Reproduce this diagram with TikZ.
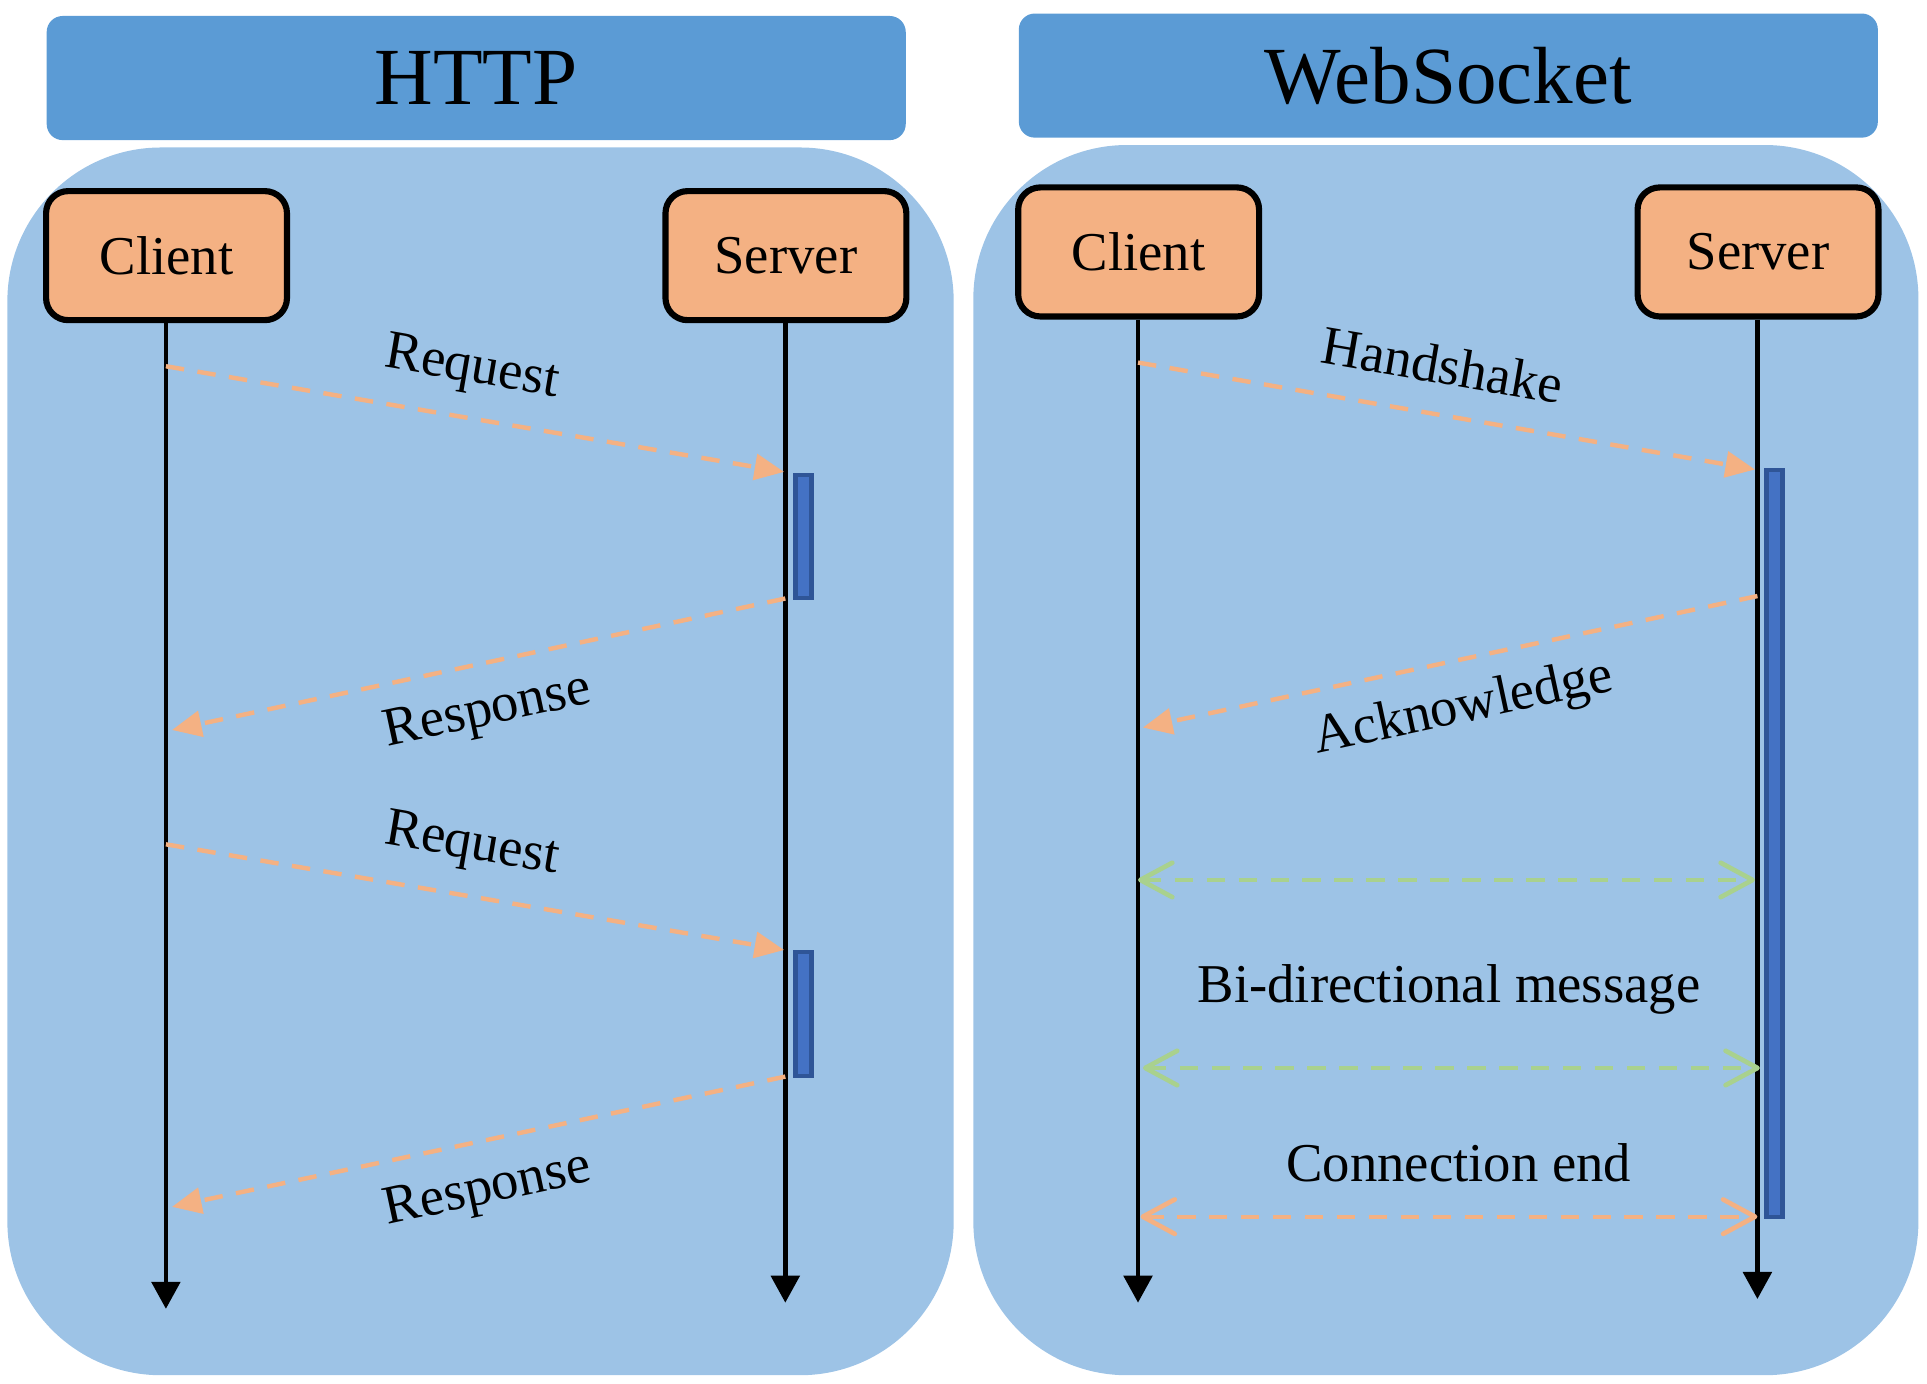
\documentclass[tikz,border=0pt]{standalone}
\usepackage{fontspec}
\setmainfont{Liberation Serif}
\usetikzlibrary{arrows.meta}
\definecolor{hdr}{HTML}{5B9BD5}
\definecolor{panelc}{HTML}{9DC3E6}
\definecolor{actorc}{HTML}{F4B183}
\definecolor{barc}{HTML}{4472C4}
\definecolor{barline}{HTML}{2F5597}
\definecolor{msgc}{HTML}{F4B183}
\definecolor{bidic}{HTML}{A9D18E}
\begin{document}
\begin{tikzpicture}[x=1pt,y=-1pt,
  header/.style={fill=hdr, draw=none, rounded corners=13pt, minimum width=699pt, minimum height=101pt, inner sep=0pt, font=\fontsize{66}{72}\selectfont},
  panelbox/.style={fill=panelc, draw=none, rounded corners=125pt, inner sep=0pt},
  actorbox/.style={fill=actorc, draw=black, line width=5pt, rounded corners=18pt, minimum width=196pt, minimum height=105pt, inner sep=0pt, font=\fontsize{44.5}{50}\selectfont},
  actbar/.style={fill=barc, draw=barline, line width=3.5pt, minimum width=13pt, inner sep=0pt},
  lifeline/.style={draw=black, line width=3.8pt, -{Triangle[length=22pt,width=23pt]}},
  msgarrow/.style={draw=msgc, line width=3.6pt, dash pattern=on 15pt off 11pt, -{Triangle[length=24pt,width=21pt]}},
  bidiarrow/.style={draw=bidic, line width=3.4pt, dash pattern=on 15pt off 11pt, {Straight Barb[length=26pt,width=28pt,line width=3.8pt,round]}-{Straight Barb[length=26pt,width=28pt,line width=3.8pt,round]}},
  endarrow/.style={bidiarrow, draw=msgc},
  lbl/.style={inner sep=0pt, font=\fontsize{44.5}{50}\selectfont}
]
\useasboundingbox (0,0) rectangle (1568,1125.4);
% panels
\node[panelbox, minimum width=770pt, minimum height=999pt] (hpanel) at (391,619.5) {};
\node[panelbox, minimum width=769pt, minimum height=1001pt] (wpanel) at (1176.5,618.5) {};
% headers
\node[header] (hhdr) at (387.5,63.5) {HTTP};
\node[header] (whdr) at (1178.5,61.5) {WebSocket};
% actors
\node[actorbox] (hc) at (135.5,208) {Client};
\node[actorbox] (hs) at (639.5,208) {Server};
\node[actorbox] (wc) at (926.5,205) {Client};
\node[actorbox] (ws) at (1430.5,205) {Server};
% lifeline ends
\coordinate (hce) at (135,1065);
\coordinate (hse) at (639,1060);
\coordinate (wce) at (926,1060);
\coordinate (wse) at (1430,1057);
\draw[lifeline] (hc.south -| hce) -- (hce);
\draw[lifeline] (hs.south -| hse) -- (hse);
\draw[lifeline] (wc.south -| wce) -- (wce);
\draw[lifeline] (ws.south -| wse) -- (wse);
% activation bars
\node[actbar, minimum height=100pt] (hb1) at (653.8,436.5) {};
\node[actbar, minimum height=101pt] (hb2) at (653.8,825) {};
\node[actbar, minimum height=608pt] (wb) at (1444,686.5) {};
% HTTP messages
\coordinate (rq1s) at (135,298);  \coordinate (rq1e) at (638,384);
\coordinate (rs1s) at (639,487);  \coordinate (rs1e) at (140,594);
\coordinate (rq2s) at (135,687);  \coordinate (rq2e) at (638,773);
\coordinate (rs2s) at (639,876);  \coordinate (rs2e) at (140,982);
\draw[msgarrow] (rq1s) -- (rq1e);
\draw[msgarrow] (rs1s) -- (rs1e);
\draw[msgarrow] (rq2s) -- (rq2e);
\draw[msgarrow] (rs2s) -- (rs2e);
\node[lbl, rotate=-9.7] (lrq1) at (384,301) {Request};
\node[lbl, rotate=12.1] (lrs1) at (397,580) {Response};
\node[lbl, rotate=-9.7] (lrq2) at (384,689) {Request};
\node[lbl, rotate=12.1] (lrs2) at (397,969) {Response};
% WebSocket messages
\coordinate (hss) at (926,295);   \coordinate (hse2) at (1428,382);
\coordinate (acs) at (1430,485);  \coordinate (ace) at (930,592);
\coordinate (b1s) at (926,716);   \coordinate (b1e) at (1428,716);
\coordinate (b2s) at (930,869);   \coordinate (b2e) at (1432,869);
\coordinate (ces) at (928,990);   \coordinate (cee) at (1430,990);
\draw[msgarrow] (hss) -- (hse2);
\draw[msgarrow] (acs) -- (ace);
\draw[bidiarrow] (b1s) -- (b1e);
\draw[bidiarrow] (b2s) -- (b2e);
\draw[endarrow] (ces) -- (cee);
\node[lbl, rotate=-9.8] (lhs) at (1174,297) {Handshake};
\node[lbl, rotate=12.1] (lac) at (1191,577) {Acknowledge};
\node[lbl] (lbd) at (1179,805) {Bi-directional message};
\node[lbl] (lce) at (1187,946) {Connection end};
\end{tikzpicture}
\end{document}
